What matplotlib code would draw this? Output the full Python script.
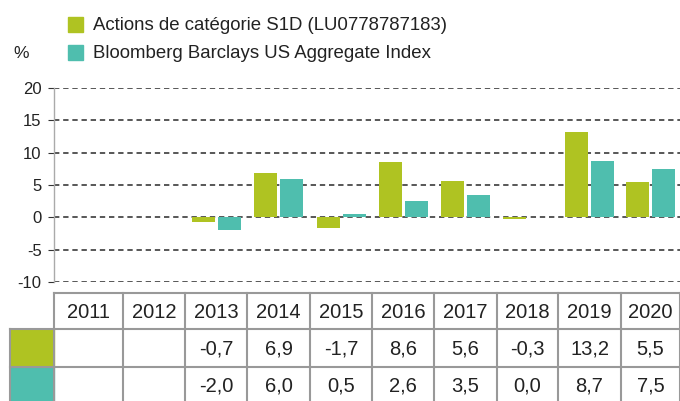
import matplotlib
matplotlib.use("Agg")
import matplotlib.pyplot as plt
from matplotlib.patches import Rectangle
import numpy as np

plt.rcParams['font.family'] = ['Liberation Sans', 'DejaVu Sans']
plt.rcParams['axes.unicode_minus'] = False

years = ["2011", "2012", "2013", "2014", "2015", "2016", "2017", "2018", "2019", "2020"]
fund = [np.nan, np.nan, -0.7, 6.9, -1.7, 8.6, 5.6, -0.3, 13.2, 5.5]
index = [np.nan, np.nan, -2.0, 6.0, 0.5, 2.6, 3.5, 0.0, 8.7, 7.5]
fund_name = "Actions de catégorie S1D (LU0778787183)"
index_name = "Bloomberg Barclays US Aggregate Index"

green = "#AFC322"
teal = "#4FBEAE"
W, H = 680, 401

# column widths of the table (pixels), the chart shares them
col_w = [69, 62, 62, 63, 62, 62, 63, 61, 63, 59]
left = 54
edges = left + np.concatenate([[0], np.cumsum(col_w)])
centers = (edges[:-1] + edges[1:]) / 2

fig = plt.figure(figsize=(W / 100, H / 100), dpi=100)

# chart area: y from -10 (px 282) to 20 (px 88)
ax = fig.add_axes([left / W, (H - 282) / H, (W - left) / W, 194 / H])
ax.bar(centers - 13, fund, width=23, color=green, zorder=2)
ax.bar(centers + 13, index, width=23, color=teal, zorder=2)
ax.set_xlim(left, W)
ax.set_ylim(-10, 20)
ax.set_yticks(range(-10, 21, 5))
ax.set_xticks([])
ax.yaxis.grid(True, color="#2a2a2a", linestyle=(0, (3.5, 2.5)), linewidth=1.1)
ax.set_axisbelow(True)
for s in ["top", "right", "bottom"]:
    ax.spines[s].set_visible(False)
ax.spines["left"].set_color("#aaaaaa")
ax.spines["left"].set_linewidth(1)
ax.tick_params(axis="y", length=4, color="#333333", labelsize=12, pad=5,
               labelcolor="#222222")

# overlay in pixel coordinates for legend, unit and table
ov = fig.add_axes([0, 0, 1, 1])
ov.set_xlim(0, W)
ov.set_ylim(H, 0)
ov.axis("off")

ov.add_patch(Rectangle((68, 17), 15, 15, color=green))
ov.add_patch(Rectangle((68, 45), 15, 15, color=teal))
ov.text(93, 25, fund_name, fontsize=13.4, va="center", ha="left", color="#222222")
ov.text(93, 53, index_name, fontsize=13.4, va="center", ha="left", color="#222222")
ov.text(13, 53, "%", fontsize=12.5, va="center", ha="left", color="#222222")

# table
rows = [293, 329, 367, 410]
lc = "#999999"
ov.add_patch(Rectangle((10, rows[1]), left - 10, rows[2] - rows[1], color=green))
ov.add_patch(Rectangle((10, rows[2]), left - 10, rows[3] - rows[2], color=teal))


def fmt(v):
    if np.isnan(v):
        return ""
    return ("%.1f" % v).replace(".", ",")


fs = 14.5
for i, y in enumerate(years):
    ov.text(centers[i], (rows[0] + rows[1]) / 2 + 1, y, fontsize=fs,
            ha="center", va="center", color="#222222")
    ov.text(centers[i], (rows[1] + rows[2]) / 2 + 1, fmt(fund[i]), fontsize=fs,
            ha="center", va="center", color="#222222")
    ov.text(centers[i], (rows[2] + rows[3]) / 2 - 3, fmt(index[i]), fontsize=fs,
            ha="center", va="center", color="#222222")

for x in edges:
    ov.plot([x, x], [rows[0], rows[3]], color=lc, lw=1.5)
ov.plot([10, 10], [rows[1], rows[3]], color=lc, lw=1.5)
ov.plot([left, W], [rows[0], rows[0]], color=lc, lw=1.5)
for r in rows[1:3]:
    ov.plot([10, W], [r, r], color=lc, lw=1.5)

fig.savefig("out.png", dpi=100)
